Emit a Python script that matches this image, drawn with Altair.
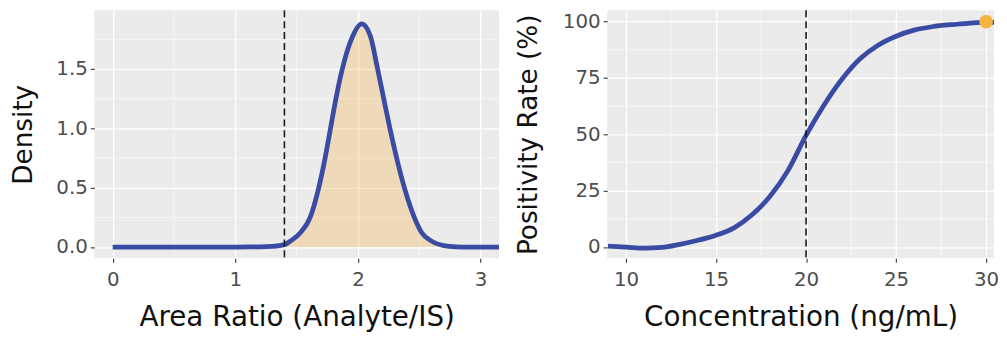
import altair as alt
import pandas as pd

# ---- data ----
ratio_x = [0.0, 0.5, 1.0, 1.2, 1.3, 1.4, 1.457, 1.53, 1.61, 1.68, 1.732, 1.776, 1.82,
           1.872, 1.95, 2.03, 2.10, 2.16, 2.21, 2.26, 2.315, 2.378, 2.459, 2.52, 2.59,
           2.7, 2.8, 2.9, 3.0, 3.15]
density_y = [0.0, 0.0, 0.0, 0.001, 0.005, 0.02, 0.056, 0.12, 0.25, 0.5, 0.75, 1.0, 1.25,
             1.5, 1.76, 1.88, 1.78, 1.5, 1.25, 1.0, 0.75, 0.5, 0.25, 0.12, 0.056,
             0.012, 0.002, 0.0, 0.0, 0.0]
ratio_cutoff = [1.4]

conc_x = [9, 10, 11, 12, 13, 14, 15, 16, 17, 18, 19, 20, 21, 22, 23, 24, 25, 26, 27, 28, 29, 30, 31]
positivity_y = [0.4, 0.0, -0.5, -0.2, 1.2, 3.0, 5.2, 8.5, 14.3, 22.5, 34.0, 49.5, 63.0, 74.5,
                83.5, 89.5, 93.5, 96.2, 97.7, 98.6, 99.2, 99.7, 99.5]
conc_cutoff = [20]
point_x = [30]
point_y = [100]

left_x_ticks = [0, 1, 2, 3]
left_x_minor = [0.5, 1.5, 2.5]
left_y_ticks = [0.0, 0.5, 1.0, 1.5]
left_y_minor = [0.25, 0.75, 1.25, 1.75]
right_x_ticks = [10, 15, 20, 25, 30]
right_x_minor = [12.5, 17.5, 22.5, 27.5]
right_y_ticks = [0, 25, 50, 75, 100]
right_y_minor = [12.5, 37.5, 62.5, 87.5]

BLUE = "#3A4BA3"
ORANGE = "#F5B342"
FONT = "DejaVu Sans"

density_df = pd.DataFrame({"x": ratio_x, "y": density_y})
fill_df = density_df[density_df["x"] >= ratio_cutoff[0]]
sig_df = pd.DataFrame({"x": conc_x, "y": positivity_y})


def axis(values, fmt, title_pad, label_pad, title_size):
    return alt.Axis(values=values, format=fmt, grid=True, gridColor="white", gridWidth=1.3,
                    domain=False, tickColor="#333333", tickSize=4, tickWidth=1.1,
                    labelFont=FONT, labelFontSize=20, labelColor="#4D4D4D", labelPadding=label_pad,
                    titleFont=FONT, titleFontSize=title_size, titleColor="#111111",
                    titleFontWeight="normal", titlePadding=title_pad)


def panel(df, fill, cutoff, xdom, ydom, xt, xm, yt, ym, xfmt, yfmt, xtitle, ytitle, w, h,
          ytp, extra=None):
    xs = alt.Scale(domain=xdom, nice=False, zero=False)
    ys = alt.Scale(domain=ydom, nice=False, zero=False)
    X = alt.X("x:Q", scale=xs, title=xtitle, axis=axis(xt, xfmt, 15, 7, 28))
    Y = alt.Y("y:Q", scale=ys, title=ytitle, axis=axis(yt, yfmt, ytp, 3, 26.5))
    minor_x = alt.Chart(pd.DataFrame({"x": xm})).mark_rule(color="white", strokeWidth=0.6).encode(
        x=alt.X("x:Q", scale=xs))
    minor_y = alt.Chart(pd.DataFrame({"y": ym})).mark_rule(color="white", strokeWidth=0.6).encode(
        y=alt.Y("y:Q", scale=ys))
    layers = [minor_x, minor_y]
    if fill is not None:
        layers.append(alt.Chart(fill).mark_area(color=ORANGE, opacity=0.3, interpolate="monotone",
                                                clip=True).encode(x=X, y=Y))
    layers.append(alt.Chart(df).mark_line(color=BLUE, strokeWidth=4.8, interpolate="monotone",
                                          clip=True).encode(x=X, y=Y))
    if extra is not None:
        layers.append(extra(xs, ys))
    layers.append(alt.Chart(pd.DataFrame({"x": cutoff})).mark_rule(
        color="#1A1A1A", strokeWidth=1.6, strokeDash=[7, 4]).encode(x=alt.X("x:Q", scale=xs)))
    return alt.layer(*layers).properties(width=w, height=h)


def dot(xs, ys):
    return alt.Chart(pd.DataFrame({"x": point_x, "y": point_y})).mark_circle(
        color=ORANGE, size=190, opacity=1).encode(x=alt.X("x:Q", scale=xs), y=alt.Y("y:Q", scale=ys))


left = panel(density_df, fill_df, ratio_cutoff, [-0.15, 3.15], [-0.095, 1.995],
             left_x_ticks, left_x_minor, left_y_ticks, left_y_minor, "d", ".1f",
             "Area Ratio (Analyte/IS)", "Density", 408, 250, 19)
right = panel(sig_df, None, conc_cutoff, [8.953, 30.44], [-5, 105],
              right_x_ticks, right_x_minor, right_y_ticks, right_y_minor, "d", "d",
              "Concentration (ng/mL)", "Positivity Rate (%)", 390, 250, 20, extra=dot)

chart = alt.hconcat(left, right, spacing=15).properties(
    padding={"left": 2, "top": 0, "right": 0, "bottom": 0}
).configure_view(stroke=None, fill="#EBEBEB")

chart.save("out.html", embed_options={"renderer": "svg", "actions": False})
